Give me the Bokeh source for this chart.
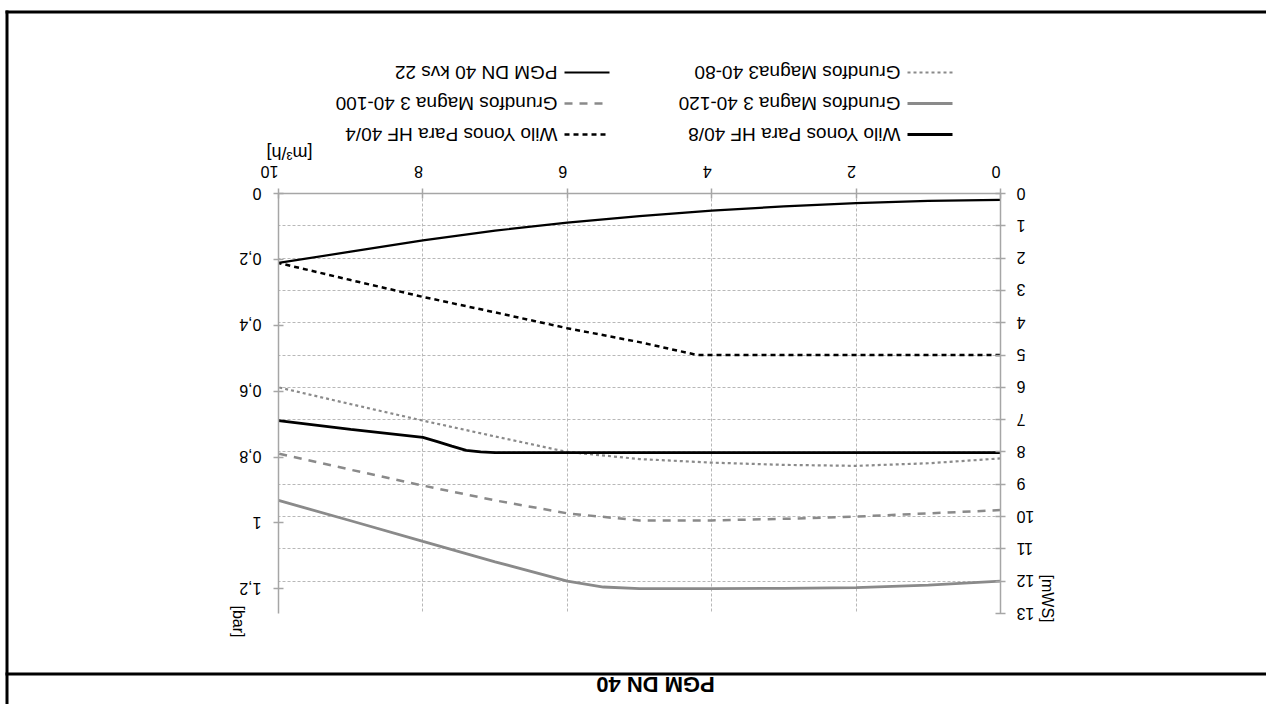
import math
from bokeh.plotting import figure
from bokeh.models import Range1d, LinearAxis, FixedTicker
from bokeh.core.properties import value
from bokeh.embed import file_html
from bokeh.resources import INLINE

# ---- data (flow m3/h, pressure loss mWS) ----
flow_pgm = [0, 1, 2, 3, 4, 5, 6, 7, 8, 9, 10]
mws_pgm = [0.2, 0.23, 0.3, 0.4, 0.53, 0.7, 0.9, 1.15, 1.45, 1.8, 2.15]

flow_w4 = [0, 2, 4.2, 5, 6, 7, 8, 9, 10]
mws_w4 = [5.0, 5.0, 5.0, 4.6, 4.17, 3.68, 3.2, 2.68, 2.15]

flow_w8 = [0, 2, 4, 6, 7, 7.2, 7.4, 7.6, 7.8, 8, 9, 10]
mws_w8 = [8.02, 8.02, 8.02, 8.02, 8.02, 8.0, 7.95, 7.82, 7.68, 7.55, 7.3, 7.03]

flow_m80 = [0, 1, 2, 3, 4, 5, 6, 7, 8, 9, 10]
mws_m80 = [8.2, 8.35, 8.43, 8.4, 8.33, 8.22, 8.0, 7.52, 7.03, 6.52, 6.0]

flow_m100 = [0, 1, 2, 3, 4, 5, 6, 7, 8, 9, 10]
mws_m100 = [9.8, 9.9, 10.0, 10.07, 10.12, 10.12, 9.9, 9.5, 9.04, 8.55, 8.05]

flow_m120 = [0, 1, 2, 3, 4, 5, 5.5, 6, 7, 8, 9, 10]
mws_m120 = [12.0, 12.12, 12.2, 12.22, 12.23, 12.23, 12.18, 12.0, 11.4, 10.77, 10.13, 9.5]

x_ticks = [0, 2, 4, 6, 8, 10]
mws_ticks = list(range(0, 14))
mws_tick_labels = [str(t) for t in mws_ticks]
bar_ticks = [0, 0.2, 0.4, 0.6, 0.8, 1.0, 1.2]
bar_tick_labels = ["0", "0,2", "0,4", "0,6", "0,8", "1", "1,2"]

title_text = "PGM DN 40"
x_title = "[m³/h]"
mws_title = "[mWS]"
bar_title = "[bar]"

series = [
    ("PGM DN 40 kvs 22", flow_pgm, mws_pgm),
    ("Grundfos Magna3 40-80", flow_m80, mws_m80),
    ("Grundfos Magna 3 40-100", flow_m100, mws_m100),
    ("Grundfos Magna 3 40-120", flow_m120, mws_m120),
    ("Wilo Yonos Para HF 40/4", flow_w4, mws_w4),
    ("Wilo Yonos Para HF 40/8", flow_w8, mws_w8),
]

BLACK = "#000000"
GRAY = "#8a8a8a"
styles = {
    "PGM DN 40 kvs 22": dict(color=BLACK, width=2.2, dash="solid"),
    "Grundfos Magna3 40-80": dict(color=GRAY, width=2.2, dash="3 3"),
    "Grundfos Magna 3 40-100": dict(color=GRAY, width=2.5, dash="8 7"),
    "Grundfos Magna 3 40-120": dict(color=GRAY, width=2.8, dash="solid"),
    "Wilo Yonos Para HF 40/4": dict(color=BLACK, width=2.5, dash="5 4"),
    "Wilo Yonos Para HF 40/8": dict(color=BLACK, width=2.8, dash="solid"),
}

FONT = "Liberation Sans"
W, H = 1266, 704
ML, MT, FW, FH = 278, 193, 722, 420

p = figure(width=W, height=H, output_backend="svg", toolbar_location=None,
           x_range=Range1d(10, 0), y_range=Range1d(13, 0),
           x_axis_location="above", y_axis_location="right",
           min_border_left=ML, min_border_top=MT,
           min_border_right=W - ML - FW, min_border_bottom=H - MT - FH)
p.outline_line_color = None
p.background_fill_color = "white"
p.border_fill_color = "white"

MWS_PER_BAR = 10.197
p.extra_y_ranges = {"bar": Range1d(13 / MWS_PER_BAR, 0)}
mws_axis = p.right[0]
x_axis = p.above[0]
bar_axis = LinearAxis(y_range_name="bar")
p.add_layout(bar_axis, "left")

for ax in [x_axis, mws_axis, bar_axis]:
    ax.axis_line_color = "#a6a6a6"
    ax.axis_line_width = 1.5
    ax.major_tick_line_color = "#a6a6a6"
    ax.major_tick_line_width = 1.5
    ax.major_tick_in = 5
    ax.major_tick_out = 5
    ax.minor_tick_line_color = None
    ax.major_label_text_font = FONT
    ax.major_label_text_font_size = "16px"
    ax.major_label_text_color = "#000000"

x_axis.ticker = FixedTicker(ticks=x_ticks)
x_axis.major_label_orientation = math.pi
x_axis.major_label_standoff = 17
mws_axis.ticker = FixedTicker(ticks=mws_ticks)
mws_axis.major_label_overrides = {t: "" for t in mws_ticks}
bar_axis.ticker = FixedTicker(ticks=bar_ticks)
bar_axis.major_label_overrides = {t: "" for t in bar_ticks}

p.xgrid.ticker = FixedTicker(ticks=x_ticks)
p.ygrid.ticker = FixedTicker(ticks=mws_ticks)
for g in [p.xgrid[0], p.ygrid[0]]:
    g.grid_line_color = "#b8b8b8"
    g.grid_line_dash = "3 2"
    g.grid_line_width = 1

for name, xs, ys in series:
    st = styles[name]
    p.line(xs, ys, line_color=st["color"], line_width=st["width"], line_dash=st["dash"])


# ---- page-pixel helpers for decoration placement ----
def fx(px):
    return (ML + FW - px) / (FW / 10)


def fy(py):
    return (py - MT) / (FH / 13)


def hline(x0, x1, y, **kw):
    p.line([fx(x0), fx(x1)], [fy(y), fy(y)], level="overlay", **kw)


def vline(x, y0, y1, **kw):
    p.line([fx(x), fx(x)], [fy(y0), fy(y1)], level="overlay", **kw)


def txt(xs, ys, texts, angle, align, baseline, size, style="normal", **kw):
    p.text(x=xs, y=ys, text=texts, angle=angle, text_align=align,
           text_baseline=baseline, text_font=value(FONT),
           text_font_size=value(size), text_font_style=value(style),
           text_color="black", level="overlay", **kw)


# y tick labels (upside-down, like the rest of the sheet)
txt([fx(1016)] * len(mws_ticks), mws_ticks, mws_tick_labels, math.pi, "right", "middle", "16px")
txt([fx(261)] * len(bar_ticks), bar_ticks, bar_tick_labels, math.pi, "left", "middle", "16px",
    y_range_name="bar")

# frame of the sheet
hline(5, 1270, 11.5, line_color="black", line_width=3)
vline(6.5, 10, 710, line_color="black", line_width=3)
hline(5, 1270, 673.5, line_color="black", line_width=3)

# legend (drawn rotated)
legend_rows = [
    ("PGM DN 40 kvs 22", 557, 72),
    ("Grundfos Magna 3 40-100", 557, 103),
    ("Wilo Yonos Para HF 40/4", 557, 134),
    ("Grundfos Magna3 40-80", 900, 72),
    ("Grundfos Magna 3 40-120", 900, 103),
    ("Wilo Yonos Para HF 40/8", 900, 134),
]
for name, tx, ty in legend_rows:
    st = styles[name]
    hline(tx + 7, tx + 52, ty, line_color=st["color"], line_width=st["width"], line_dash=st["dash"])
    txt([fx(tx)], [fy(ty)], [name], math.pi, "left", "middle", "19px")

txt([fx(289)], [fy(152)], [x_title], math.pi, "center", "middle", "18px")
txt([fx(1047)], [fy(598)], [mws_title], -math.pi / 2, "center", "middle", "16px")
txt([fx(238)], [fy(621)], [bar_title], -math.pi / 2, "center", "middle", "16px")
txt([fx(655)], [fy(684)], [title_text], math.pi, "center", "middle", "22px", style="bold")

open("out.html", "w").write(file_html(p, INLINE))
